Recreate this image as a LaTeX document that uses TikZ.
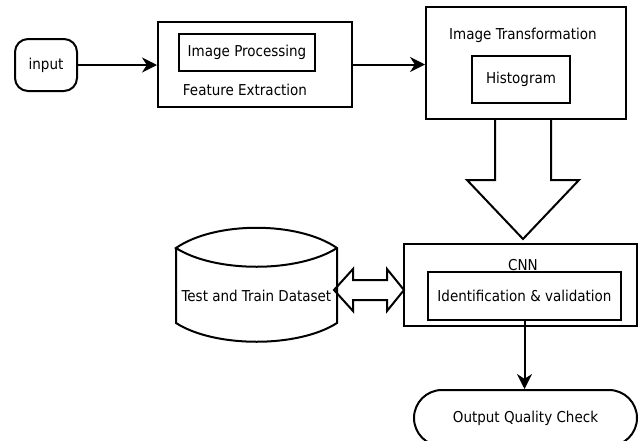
\documentclass[tikz,border=0pt]{standalone}
\usepackage{fontspec}
\setmainfont{DejaVu Sans Condensed}
\usetikzlibrary{arrows.meta,calc,positioning}

\tikzset{
    block/.style={draw, rectangle, inner sep=0pt},
    term/.style={draw, rectangle, inner sep=0pt},
    flow/.style={-{Stealth[length=15pt,width=15pt]}}
}

\begin{document}
\begin{tikzpicture}[x=1pt, y=-1pt, line width=2pt, every node/.style={font=\fontsize{15}{17}\selectfont}]
    \useasboundingbox (0,0) rectangle (640,440);
    % Input
    \node[term, rounded corners=13pt, minimum width=62pt, minimum height=52pt] (input) at (46,65) {input};
    % Feature extraction stage
    \node[block, minimum width=194pt, minimum height=85pt] (feat) at (255,64.5) {};
    \node[block, minimum width=136pt, minimum height=37pt] (proc) at (247,52.5) {Image Processing};
    \node (featlbl) at (245,90) {Feature Extraction};
    % Image transformation stage
    \node[block, minimum width=200pt, minimum height=112pt] (trans) at (526,63) {};
    \node (translbl) at (523,35) {Image Transformation};
    \node[block, minimum width=98pt, minimum height=47pt] (hist) at (521,79.5) {Histogram};
    % CNN stage
    \node[block, minimum width=233pt, minimum height=82pt] (cnn) at (520.5,285) {};
    \node (cnnlbl) at (523,265) {CNN};
    \node[block, minimum width=193pt, minimum height=48pt] (ident) at (524.5,296) {Identification \& validation};
    % Output
    \node[term, rounded corners=28pt, minimum width=223pt, minimum height=56pt] (output) at (525.5,418) {Output Quality Check};
    % Dataset drum
    \draw (176,248) -- (176,323) .. controls (215,348) and (298,348) .. (337,323)
          -- (337,248) .. controls (298,221) and (215,221) .. (176,248)
          .. controls (215,273) and (298,273) .. (337,248);
    \node (data) at (256.5,296) {Test and Train Dataset};

    % Connectors
    \draw[flow] (input.east) -- (input.east -| feat.west);
    \draw[flow] (feat.east) -- (feat.east -| trans.west);
    \draw[flow] (ident.south) -- (ident.south |- output.north);
    % Fat arrow down into the CNN
    \coordinate (fattop) at (trans.south -| 523,0);
    \draw[line join=miter] ($(fattop)+(-28,0)$) -- ++(0,60) -- ++(-28,0) -- ++(56,59)
          -- ++(56,-59) -- ++(-28,0) -- ++(0,-60);
    % Two-way arrow between dataset and CNN
    \coordinate (dsr) at (334,290);
    \draw[line join=miter] (dsr) -- ++(19,-21) -- ++(0,11) -- ++(34,0) -- ++(0,-11) -- ++(17,21)
          -- ++(-17,21) -- ++(0,-11) -- ++(-34,0) -- ++(0,11) -- cycle;
\end{tikzpicture}
\end{document}
